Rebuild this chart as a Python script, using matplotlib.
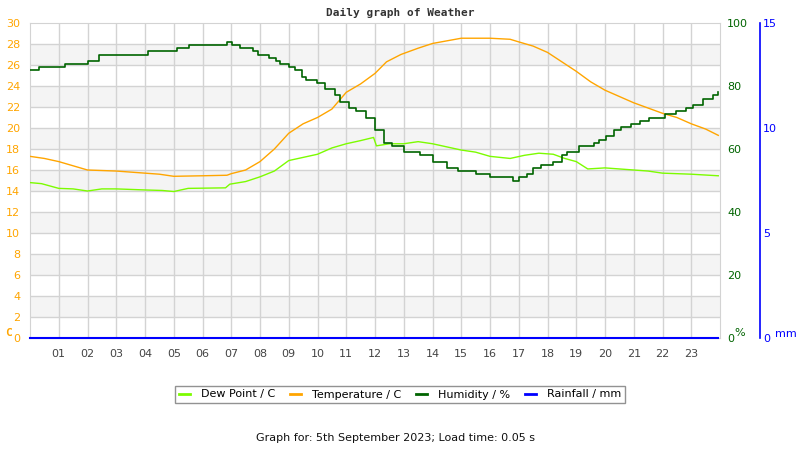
"""Daily weather graph: temperature / dew point (C, left), humidity (%, right),
rainfall (mm, outer right) over one day, hourly grid."""

import matplotlib

matplotlib.use("Agg")
import matplotlib.pyplot as plt
from matplotlib.lines import Line2D

TEMP_COLOUR = "#ffa500"
DEW_COLOUR = "#7cfc00"
HUM_COLOUR = "#006400"
RAIN_COLOUR = "#0000ff"
GRID_COLOUR = "#d3d3d3"
BAND_COLOUR = "#f4f4f4"

# temperature (C)
temp_hours = [0, 0.5, 1, 1.5, 2, 3, 4, 4.5, 5, 6, 6.85, 7, 7.5, 8, 8.5, 9, 9.5, 10, 10.5,
              11, 11.5, 12, 12.4, 12.9, 13.5, 14, 14.5, 15, 16, 16.7, 17, 17.5, 18, 18.5,
              19, 19.5, 20, 20.5, 21, 21.5, 22, 22.5, 23, 23.5, 23.94]
temp_values = [17.3, 17.1, 16.8, 16.4, 16.0, 15.9, 15.7, 15.6, 15.4, 15.45, 15.5, 15.65, 16.0,
               16.8, 18.0, 19.5, 20.4, 21.0, 21.8, 23.4, 24.2, 25.2, 26.3, 27.0, 27.6, 28.05,
               28.3, 28.55, 28.55, 28.45, 28.2, 27.8, 27.2, 26.3, 25.4, 24.4, 23.6, 23.0, 22.4,
               21.9, 21.4, 21.0, 20.4, 19.9, 19.3]

# dew point (C), light green curve
dew_hours = [0, 0.4, 1, 1.5, 2, 2.5, 3, 4, 4.6, 5, 5.5, 6.8, 6.95, 7.5, 8, 8.5, 9, 9.5, 10,
             10.5, 11, 11.5, 11.95, 12.05, 12.5, 13, 13.5, 14, 14.5, 15, 15.5, 16, 16.7, 17.2,
             17.7, 18.2, 18.6, 19, 19.4, 20, 20.5, 21, 21.5, 22, 23, 23.94]
dew_values = [14.8, 14.7, 14.25, 14.2, 14.0, 14.2, 14.2, 14.1, 14.05, 13.95, 14.25, 14.3, 14.65,
              14.9, 15.35, 15.9, 16.9, 17.2, 17.5, 18.1, 18.5, 18.8, 19.1, 18.3, 18.5, 18.5,
              18.7, 18.5, 18.2, 17.9, 17.7, 17.3, 17.1, 17.4, 17.6, 17.5, 17.1, 16.8, 16.1, 16.2,
              16.1, 16.0, 15.9, 15.7, 15.6, 15.45]

# humidity (%), dark green stepped curve -- each value holds until the next time
hum_hours = [0, 0.33, 1.22, 2.0, 2.4, 4.1, 5.1, 5.54, 6.84, 7.04, 7.3, 7.77, 7.94, 8.3, 8.55,
             8.7, 9.0, 9.2, 9.45, 9.6, 9.97, 10.26, 10.6, 10.78, 11.1, 11.33, 11.7, 12.0, 12.3,
             12.6, 13.0, 13.56, 14.03, 14.5, 14.9, 15.5, 16.0, 16.8, 17.0, 17.3, 17.5, 17.77,
             18.2, 18.5, 18.68, 19.09, 19.6, 19.8, 20.04, 20.3, 20.56, 20.9, 21.2, 21.54, 22.1,
             22.47, 22.8, 23.05, 23.4, 23.75, 23.94]
hum_values = [85, 86, 87, 88, 90, 91, 92, 93, 94, 93, 92, 91, 90, 89, 88, 87, 86, 85, 83, 82,
              81, 79, 77, 75, 73, 72, 70, 66, 62, 61, 59, 58, 56, 54, 53, 52, 51, 50, 51, 52,
              54, 55, 56, 58, 59, 61, 62, 63, 64, 66, 67, 68, 69, 70, 71, 72, 73, 74, 76, 77, 78]

# rainfall (mm): none all day
rain_hours = [0, 23.94]
rain_values = [0, 0]

hour_ticks = list(range(1, 24))
hour_labels = [f"{h:02d}" for h in hour_ticks]
temp_ticks = list(range(0, 31, 2))
hum_ticks = list(range(0, 101, 20))
rain_ticks = [0, 5, 10, 15]

fig = plt.figure(figsize=(8, 4.5), dpi=100, facecolor="white")
ax = fig.add_axes([30 / 800, 112 / 450, 690 / 800, 315 / 450])
ax.set_xlim(0, 24)
ax.set_ylim(0, 30)

# alternating shaded bands every other 2 C step
for lo in range(2, 30, 4):
    ax.axhspan(lo, lo + 2, color=BAND_COLOUR, zorder=0, lw=0)
for t in temp_ticks[1:-1]:
    ax.axhline(t, color=GRID_COLOUR, lw=1, zorder=0.5)
for h in hour_ticks:
    ax.axvline(h, color=GRID_COLOUR, lw=1, zorder=0.5)
for s in ax.spines.values():
    s.set_color(GRID_COLOUR)

ax.plot(temp_hours, temp_values, color=TEMP_COLOUR, lw=1.0, zorder=3)
ax.plot(dew_hours, dew_values, color=DEW_COLOUR, lw=1.0, zorder=3)

ax.set_xticks(hour_ticks)
ax.set_xticklabels(hour_labels)
ax.tick_params(axis="x", length=0, pad=8, labelsize=8, labelcolor="#444444")
ax.set_yticks(temp_ticks)
ax.tick_params(axis="y", length=0, pad=7, labelsize=8, labelcolor=TEMP_COLOUR)

ax_hum = ax.twinx()
ax_hum.set_ylim(0, 100)
ax_hum.step(hum_hours, hum_values, where="post", color=HUM_COLOUR, lw=1.2, zorder=3)
ax_hum.set_yticks(hum_ticks)
ax_hum.tick_params(axis="y", length=0, pad=5, labelsize=8, labelcolor=HUM_COLOUR)
for s in ax_hum.spines.values():
    s.set_visible(False)

ax_rain = ax.twinx()
ax_rain.set_ylim(0, 15)
ax_rain.plot(rain_hours, rain_values, color=RAIN_COLOUR, lw=1.5, clip_on=False, zorder=4)
ax_rain.set_yticks(rain_ticks)
for name, s in ax_rain.spines.items():
    s.set_visible(name == "right")
# outer rainfall axis sits 40 px right of the plot (outward is in points)
ax_rain.spines["right"].set_position(("outward", 40 * 72 / 100))
ax_rain.spines["right"].set_color(RAIN_COLOUR)
ax_rain.spines["right"].set_linewidth(1.2)
ax_rain.tick_params(axis="y", length=0, pad=2, labelsize=8, labelcolor=RAIN_COLOUR)

# unit labels beside the zero of each axis
fig.text(5 / 800, 1 - 333 / 450, "C", color=TEMP_COLOUR, fontsize=8, fontweight="bold",
         va="center", family="DejaVu Sans Mono")
fig.text(734 / 800, 1 - 333 / 450, "%", color=HUM_COLOUR, fontsize=8, va="center")
fig.text(775 / 800, 1 - 334 / 450, "mm", color=RAIN_COLOUR, fontsize=8, va="center")

fig.text(0.5, 1 - 13 / 450, "Daily graph of Weather", ha="center", va="center",
         fontsize=8, fontweight="bold", family="DejaVu Sans Mono", color="#333333")

handles = [Line2D([], [], color=c, lw=2) for c in (DEW_COLOUR, TEMP_COLOUR, HUM_COLOUR, RAIN_COLOUR)]
labels = ["Dew Point / C", "Temperature / C", "Humidity / %", "Rainfall / mm"]
leg = fig.legend(handles, labels, loc="center", bbox_to_anchor=(400 / 800, 1 - 394.5 / 450),
                 ncol=4, fontsize=8, frameon=True, fancybox=False, handlelength=1.0,
                 handletextpad=1.0, columnspacing=1.3, borderpad=0.35, borderaxespad=0)
leg.get_frame().set_edgecolor("#777777")
leg.get_frame().set_linewidth(1.0)

fig.text(395 / 800, 1 - 438 / 450, "Graph for: 5th September 2023; Load time: 0.05 s",
         ha="center", va="center", fontsize=8, color="#111111")

fig.savefig("out.png", dpi=100, facecolor="white")
